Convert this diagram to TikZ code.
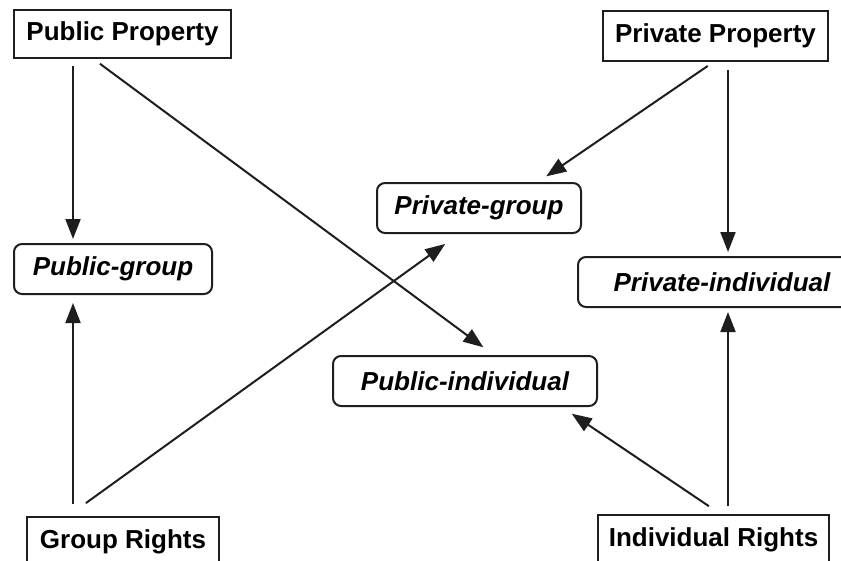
\documentclass[tikz,border=0pt]{standalone}
\usepackage{fontspec}
\setmainfont{Liberation Sans}
\usetikzlibrary{arrows.meta, positioning}
\definecolor{inkgray}{RGB}{30,30,30}

\begin{document}
\begin{tikzpicture}[x=1pt, y=-1pt,
  propbox/.style={draw=inkgray, line width=2pt, inner sep=0pt, font=\fontsize{26}{30}\selectfont\bfseries},
  kindbox/.style={propbox, rounded corners=8pt, font=\fontsize{26}{30}\selectfont\bfseries\itshape},
  link/.style={draw=inkgray, line width=2pt, -{Triangle[length=20pt, width=15pt]}}]
  \clip (0, 0) rectangle (841, 560);

  % === property and rights boxes ===
  \node[propbox, minimum width=217pt, minimum height=48pt] (pubprop) at (122.5, 34) {Public Property};
  \node[propbox, minimum width=225pt, minimum height=50pt] (privprop) at (715.5, 36) {Private Property};
  \node[propbox, minimum width=192pt, minimum height=50pt] (grouprights) at (123, 542) {Group Rights};
  \node[propbox, minimum width=231pt, minimum height=50pt] (indrights) at (713.5, 540) {Individual Rights};

  % === combined kinds ===
  \node[kindbox, minimum width=198pt, minimum height=50pt] (pubgroup) at (113, 269) {Public-group};
  \node[kindbox, minimum width=204pt, minimum height=50pt] (privgroup) at (479, 208) {Private-group};
  \node[kindbox, minimum width=288pt, minimum height=50pt] (privind) at (722, 282) {Private-individual};
  \node[kindbox, minimum width=264pt, minimum height=50pt] (pubind) at (465, 381) {Public-individual};

  % === arrows ===
  \draw[link, shorten <=7pt, shorten >=4pt] ([xshift=-49.5pt]pubprop.south) -- ([xshift=-40pt]pubgroup.north);
  \draw[link, shorten <=8pt, shorten >=13pt] ([xshift=-29pt]pubprop.south) -- ([xshift=28.8pt]pubind.north);
  \draw[link, shorten <=7pt, shorten >=10pt] ([xshift=-2pt]privprop.south) -- ([xshift=59pt]privgroup.north);
  \draw[link, shorten <=8pt, shorten >=4pt] ([xshift=12.5pt]privprop.south) -- ([xshift=6pt]privind.north);
  \draw[link, shorten <=12pt, shorten >=8pt] ([xshift=-50pt]grouprights.north) -- ([xshift=-40pt]pubgroup.south);
  \draw[link, shorten <=22pt, shorten >=17pt] ([xshift=-55pt]grouprights.north) -- ([xshift=-20pt]privgroup.south);
  \draw[link, shorten <=14pt, shorten >=12pt] ([xshift=7pt]indrights.north) -- ([xshift=96.8pt]pubind.south);
  \draw[link, shorten <=8pt, shorten >=4pt] ([xshift=14.5pt]indrights.north) -- ([xshift=6pt]privind.south);
\end{tikzpicture}
\end{document}
